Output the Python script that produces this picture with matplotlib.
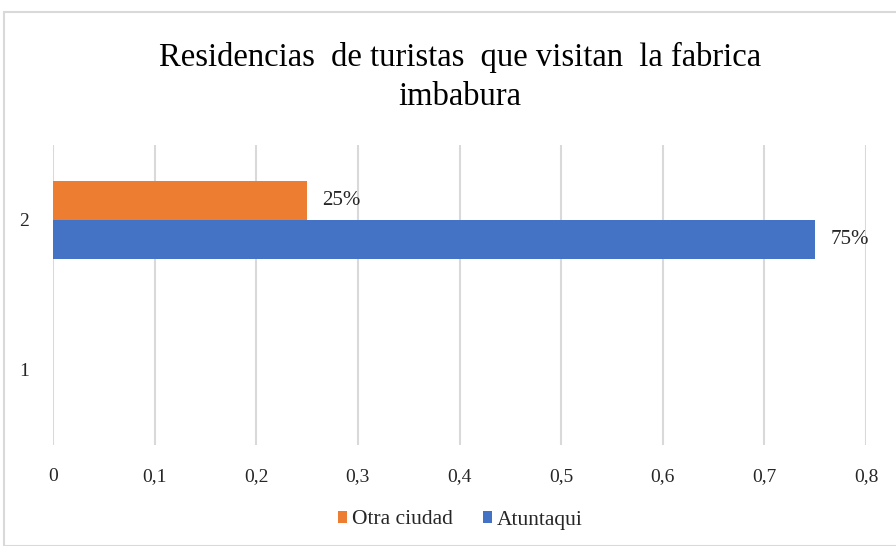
import numpy as np
import matplotlib.pyplot as plt
from matplotlib.patches import Rectangle

# data
categories = ['1', '2']
otra_ciudad = [0, 0.25]
atuntaqui = [0, 0.75]
series_names = ['Otra ciudad', 'Atuntaqui']
xticks = [0, 0.1, 0.2, 0.3, 0.4, 0.5, 0.6, 0.7, 0.8]

plt.rcParams['font.family'] = ['Liberation Serif', 'DejaVu Serif']

fig = plt.figure(figsize=(8.96, 5.46), dpi=100)
ax = fig.add_axes([53/896, 101/546, 813/896, 300/546])

# outer chart frame (partly cropped like the reference)
fig.patches.append(Rectangle((4/896, 0), 1.2, (546-12)/546, transform=fig.transFigure,
                             fill=False, edgecolor='#d9d9d9', lw=1.5))

y = np.arange(1, len(categories) + 1)
h = 0.26
b_or = ax.barh(y + h/2, otra_ciudad, height=h, color='#ED7D31', label=series_names[0])
b_bl = ax.barh(y - h/2, atuntaqui, height=h, color='#4472C4', label=series_names[1])

for bars, vals in ((b_or, otra_ciudad), (b_bl, atuntaqui)):
    for rect, v in zip(bars, vals):
        if v > 0:
            ax.annotate('%d%%' % round(v*100),
                        xy=(v, rect.get_y() + rect.get_height()/2),
                        xytext=(11, 0), textcoords='offset points',
                        va='center', ha='left', fontsize=15, color='#262626')

ax.set_xlim(0, 0.8)
ax.set_ylim(0.5, 2.5)
ax.set_xticks(xticks)
ax.set_xticklabels([('%g' % t).replace('.', ',') for t in xticks])
ax.set_yticks(y)
ax.set_yticklabels(categories)
ax.tick_params(axis='both', length=0, labelsize=14, colors='#262626')
ax.tick_params(axis='x', pad=26)
ax.tick_params(axis='y', pad=17)
for lbl in ax.get_xticklabels():
    lbl.set_va('baseline')
ax.grid(axis='x', color='#d9d9d9', lw=1.5)
ax.set_axisbelow(True)
for s in ax.spines.values():
    s.set_visible(False)

fig.text(460/896, 1 - 77/546, 'Residencias  de turistas  que visitan  la fabrica\nimbabura',
         ha='center', va='center', fontsize=23.5, linespacing=1.4, color='#000000')

leg = fig.legend(handles=[b_or, b_bl], labels=series_names, loc='center',
                 bbox_to_anchor=(460/896, 1 - 520/546), ncol=2, frameon=False,
                 fontsize=15.5, handlelength=0.45, handleheight=0.45,
                 handletextpad=0.2, columnspacing=1.4)
for t in leg.get_texts():
    t.set_color('#262626')

fig.savefig('out.png', dpi=100)
